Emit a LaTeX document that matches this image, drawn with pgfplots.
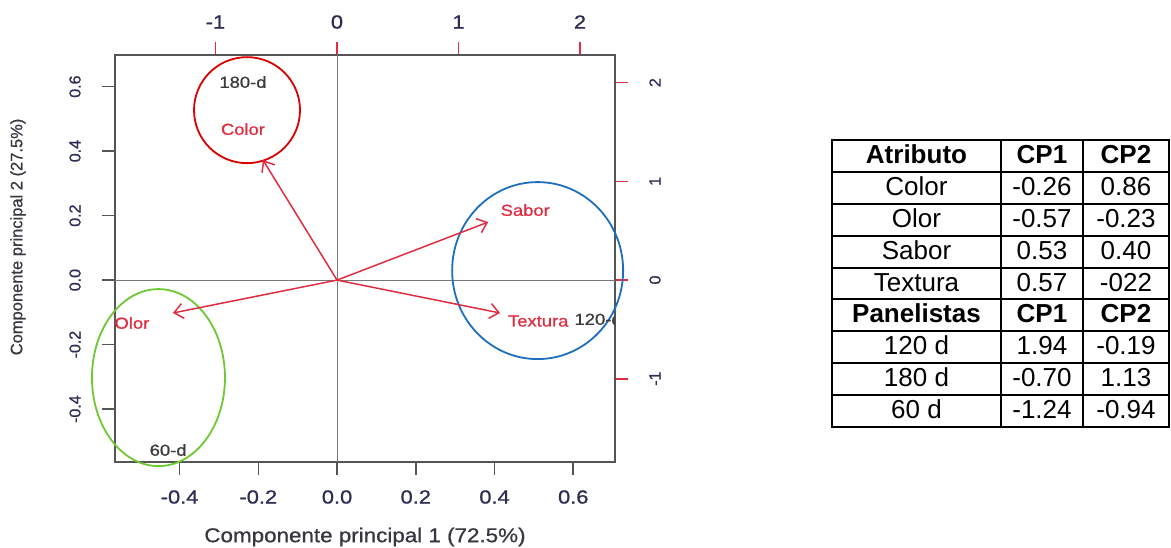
\documentclass[border=0pt]{standalone}
\usepackage{fontspec}
\setmainfont{Liberation Sans}
\newfontfamily\plotfont[FakeBold=0.8]{Liberation Sans}
\usepackage{pgfplots}
\pgfplotsset{compat=1.18}
\usetikzlibrary{arrows.meta}

\definecolor{attrred}{RGB}{225,45,65}
\definecolor{circred}{RGB}{220,0,0}
\definecolor{circblue}{RGB}{30,110,190}
\definecolor{circgreen}{RGB}{110,200,50}
\definecolor{boxgray}{RGB}{85,85,85}
\definecolor{zerogray}{RGB}{120,120,120}
\definecolor{ticklab}{RGB}{45,45,85}
\definecolor{labgray}{RGB}{55,55,65}
\definecolor{ptgray}{RGB}{60,60,60}

\begin{document}
\begin{tikzpicture}[x=1pt,y=1pt]
\useasboundingbox (0,0) rectangle (1171,-548);

% secondary (score) axes: top and right
\begin{axis}[
  at={(115pt,-462pt)}, anchor=south west,
  width=500pt, height=407pt, scale only axis,
  xmin=-1.827, xmax=2.288, ymin=-1.844, ymax=2.28,
  axis x line*=top, axis y line*=right,
  axis line style={draw=none},
  tick align=outside, major tick length=13pt,
  tick style={draw=attrred, line width=1.6pt},
  xtick={-1,0,1,2}, xticklabels={-1,0,1,2},
  ytick={-1,0,1,2}, yticklabels={-1,0,1,2},
  xticklabel style={font=\plotfont\fontsize{19}{19}\selectfont, text=ticklab, anchor=center, yshift=20pt, xscale=1.15},
  yticklabel style={font=\plotfont\fontsize{16}{16}\selectfont, text=ticklab, anchor=center, xshift=27pt, rotate=90},
]
\addplot[draw=none] coordinates {(0,0)};
\end{axis}

% main (loadings) axis
\begin{axis}[
  at={(115pt,-462pt)}, anchor=south west,
  width=500pt, height=407pt, scale only axis,
  xmin=-0.564, xmax=0.706, ymin=-0.564, ymax=0.698,
  clip=false,
  axis line style={draw=boxgray, line width=1.6pt},
  tick align=outside, major tick length=13pt,
  xtick pos=left, ytick pos=left,
  tick style={draw=boxgray, line width=1.6pt},
  xtick={-0.4,-0.2,0,0.2,0.4,0.6}, xticklabels={-0.4,-0.2,0.0,0.2,0.4,0.6},
  ytick={-0.4,-0.2,0,0.2,0.4,0.6}, yticklabels={-0.4,-0.2,0.0,0.2,0.4,0.6},
  xticklabel style={font=\plotfont\fontsize{19}{19}\selectfont, text=ticklab, anchor=center, yshift=-22pt, xscale=1.15},
  yticklabel style={font=\plotfont\fontsize{16}{16}\selectfont, text=ticklab, anchor=center, xshift=-27pt, rotate=90},
  xlabel={Componente principal 1 (72.5\%)},
  ylabel={Componente principal 2 (27.5\%)},
  xlabel style={at={(axis description cs:0.5,-0.1843)}, anchor=center, font=\plotfont\fontsize{20}{20}\selectfont, text=labgray, xscale=1.12},
  ylabel style={at={(axis description cs:-0.194,0.553)}, anchor=center, font=\plotfont\fontsize{16.5}{16.5}\selectfont, text=labgray},
]
% zero lines
\addplot[zerogray, line width=1pt] coordinates {(0,-0.564) (0,0.698)};
\addplot[zerogray, line width=1pt] coordinates {(-0.564,0) (0.706,0)};

% group circles
\draw[circred, line width=1.8pt] (axis cs:-0.2287,0.527) ellipse [x radius=53pt, y radius=53pt];
\draw[circblue, line width=1.8pt] (axis cs:0.5095,0.0295) ellipse [x radius=85.5pt, y radius=88.5pt];
\draw[circgreen, line width=1.8pt] (axis cs:-0.4536,-0.3023) ellipse [x radius=66.5pt, y radius=88.5pt];

% attribute arrows
\addplot[attrred, line width=1.5pt, -{Straight Barb[length=9pt,width=15pt,line width=1.5pt]}] coordinates {(0,0) (-0.188,0.372)};
\addplot[attrred, line width=1.5pt, -{Straight Barb[length=9pt,width=15pt,line width=1.5pt]}] coordinates {(0,0) (0.384,0.180)};
\addplot[attrred, line width=1.5pt, -{Straight Barb[length=9pt,width=15pt,line width=1.5pt]}] coordinates {(0,0) (-0.417,-0.102)};
\addplot[attrred, line width=1.5pt, -{Straight Barb[length=9pt,width=15pt,line width=1.5pt]}] coordinates {(0,0) (0.414,-0.102)};

% labels
\node[text=attrred, font=\plotfont\fontsize{16}{16}\selectfont, xscale=1.15] at (axis cs:-0.239,0.468) {Color};
\node[text=attrred, font=\plotfont\fontsize{16}{16}\selectfont, xscale=1.15] at (axis cs:0.478,0.217) {Sabor};
\node[text=attrred, font=\plotfont\fontsize{16}{16}\selectfont, xscale=1.15] at (axis cs:-0.521,-0.133) {Olor};
\node[text=attrred, font=\plotfont\fontsize{16}{16}\selectfont, xscale=1.15] at (axis cs:0.511,-0.127) {Textura};
\node[text=ptgray, font=\plotfont\fontsize{16}{16}\selectfont, xscale=1.15] at (axis cs:-0.239,0.614) {180-d};
\node[text=ptgray, font=\plotfont\fontsize{16}{16}\selectfont, xscale=1.15] at (axis cs:-0.429,-0.527) {60-d};
\coordinate (p120) at (axis cs:0.663,-0.121);
\end{axis}

\begin{scope}
\clip (115,-462) rectangle (615,-55);
\node[text=ptgray, font=\plotfont\fontsize{16}{16}\selectfont, xscale=1.15] at (p120) {120-d};
\end{scope}

% table
\foreach \k in {0,...,9} {
  \draw[line width=2pt] (831,{-140-\k*31.9}) -- (1170,{-140-\k*31.9});
}
\foreach \xx in {832,1001,1083,1169} {
  \draw[line width=2pt] (\xx,-140) -- (\xx,-427.1);
}
\begin{scope}[every node/.style={anchor=base, font=\fontsize{26}{26}\selectfont}]
\node at (916.5,{-140-0*31.9-23.5}) {\bfseries Atributo};
\node at (1042,{-140-0*31.9-23.5}) {\bfseries CP1};
\node at (1126,{-140-0*31.9-23.5}) {\bfseries CP2};
\node at (916.5,{-140-1*31.9-23.5}) {Color};
\node at (1042,{-140-1*31.9-23.5}) {-0.26};
\node at (1126,{-140-1*31.9-23.5}) {0.86};
\node at (916.5,{-140-2*31.9-23.5}) {Olor};
\node at (1042,{-140-2*31.9-23.5}) {-0.57};
\node at (1126,{-140-2*31.9-23.5}) {-0.23};
\node at (916.5,{-140-3*31.9-23.5}) {Sabor};
\node at (1042,{-140-3*31.9-23.5}) {0.53};
\node at (1126,{-140-3*31.9-23.5}) {0.40};
\node at (916.5,{-140-4*31.9-23.5}) {Textura};
\node at (1042,{-140-4*31.9-23.5}) {0.57};
\node at (1126,{-140-4*31.9-23.5}) {-022};
\node at (916.5,{-140-5*31.9-23.5}) {\bfseries Panelistas};
\node at (1042,{-140-5*31.9-23.5}) {\bfseries CP1};
\node at (1126,{-140-5*31.9-23.5}) {\bfseries CP2};
\node at (916.5,{-140-6*31.9-23.5}) {120 d};
\node at (1042,{-140-6*31.9-23.5}) {1.94};
\node at (1126,{-140-6*31.9-23.5}) {-0.19};
\node at (916.5,{-140-7*31.9-23.5}) {180 d};
\node at (1042,{-140-7*31.9-23.5}) {-0.70};
\node at (1126,{-140-7*31.9-23.5}) {1.13};
\node at (916.5,{-140-8*31.9-23.5}) {60 d};
\node at (1042,{-140-8*31.9-23.5}) {-1.24};
\node at (1126,{-140-8*31.9-23.5}) {-0.94};
\end{scope}
\end{tikzpicture}
\end{document}
